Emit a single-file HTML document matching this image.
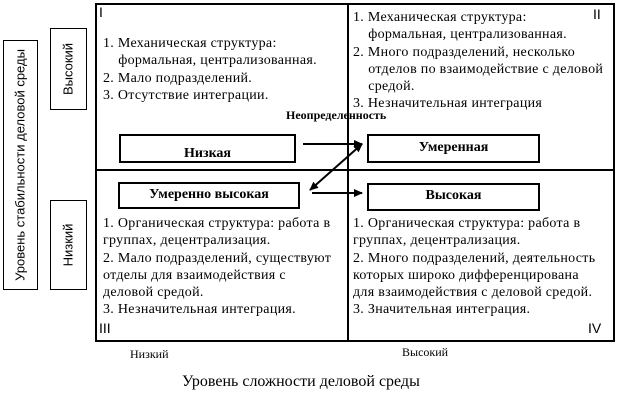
<!DOCTYPE html>
<html><head><meta charset="utf-8"><style>
body{margin:0;width:617px;height:400px;background:#fff;position:relative;overflow:hidden;font-family:"Liberation Serif",serif;color:#000}
.a{position:absolute}
.t{font-size:14px;letter-spacing:0.3px;line-height:17.3px;white-space:nowrap}
.box{position:absolute;border:2px solid #000;box-sizing:border-box;font-weight:bold;font-size:14px;text-align:center}
.s{font-family:"Liberation Sans",sans-serif}
</style></head><body>
<div class="a" style="left:95px;top:3px;width:520px;height:339px;border:2px solid #000;box-sizing:border-box"></div>
<div class="a" style="left:347px;top:3px;width:2px;height:339px;background:#000"></div>
<div class="a" style="left:95px;top:169px;width:520px;height:2px;background:#000"></div>

<div class="a" style="left:3px;top:40px;width:35px;height:250px;border:1px solid #000;box-sizing:border-box"></div>
<div class="a s" style="left:20px;top:165px;font-size:13px;white-space:nowrap;transform:translate(-50%,-50%) rotate(-90deg)">Уровень стабильности деловой среды</div>
<div class="a" style="left:50px;top:28px;width:37px;height:82px;border:1px solid #000;box-sizing:border-box"></div>
<div class="a s" style="left:68px;top:69px;font-size:13px;transform:translate(-50%,-50%) rotate(-90deg)">Высокий</div>
<div class="a" style="left:50px;top:200px;width:37px;height:90px;border:1px solid #000;box-sizing:border-box"></div>
<div class="a s" style="left:68px;top:245px;font-size:13px;transform:translate(-50%,-50%) rotate(-90deg)">Низкий</div>

<div class="a s" style="left:99px;top:4px;font-size:14px">I</div>
<div class="a s" style="left:593px;top:6px;font-size:14px">II</div>
<div class="a s" style="left:99px;top:320px;font-size:14px">III</div>
<div class="a s" style="left:588px;top:320px;font-size:14px">IV</div>

<div class="a t" style="left:103px;top:35px">1. Механическая структура:<br>&nbsp;&nbsp;&nbsp; формальная, централизованная.<br>2. Мало подразделений.<br>3. Отсутствие интеграции.</div>
<div class="a t" style="left:353px;top:9px">1. Механическая структура:<br>&nbsp;&nbsp;&nbsp; формальная, централизованная.<br>2. Много подразделений, несколько<br>&nbsp;&nbsp;&nbsp; отделов по взаимодействие с деловой<br>&nbsp;&nbsp;&nbsp; средой.<br>3. Незначительная интеграция</div>
<div class="a t" style="left:103px;top:215px">1. Органическая структура: работа в<br>группах, децентрализация.<br>2. Мало подразделений, существуют<br>отделы для взаимодействия с<br>деловой средой.<br>3. Незначительная интеграция.</div>
<div class="a t" style="left:353px;top:215px">1. Органическая структура: работа в<br>группах, децентрализация.<br>2. Много подразделений, деятельность<br>которых широко дифференцирована<br>для взаимодействия с деловой средой.<br>3. Значительная интеграция.</div>

<div class="a" style="left:286px;top:108px;font-weight:bold;font-size:12px">Неопределенность</div>
<div class="box" style="left:119px;top:134px;width:177px;height:29px;line-height:36px">Низкая</div>
<div class="box" style="left:367px;top:134px;width:173px;height:29px;line-height:24px">Умеренная</div>
<div class="box" style="left:118px;top:182px;width:182px;height:27px;line-height:22px">Умеренно высокая</div>
<div class="box" style="left:367px;top:183px;width:173px;height:28px;line-height:22px">Высокая</div>

<svg class="a" style="left:0;top:0" width="617" height="400">
<defs><marker id="m" markerUnits="userSpaceOnUse" markerWidth="9" markerHeight="9" refX="8" refY="4.5" orient="auto"><path d="M0,0.5L9,4.5L0,8.5z"/></marker>
<marker id="ms" markerUnits="userSpaceOnUse" markerWidth="9" markerHeight="9" refX="1" refY="4.5" orient="auto"><path d="M9,0.5L0,4.5L9,8.5z"/></marker></defs>
<g stroke="#000" stroke-width="2" fill="none">
<line x1="303" y1="144" x2="362" y2="144" marker-end="url(#m)"/>
<line x1="310" y1="190" x2="362" y2="144" marker-end="url(#m)" marker-start="url(#ms)"/>
<line x1="312" y1="193" x2="362" y2="193" marker-end="url(#m)"/>
</g></svg>

<div class="a" style="left:130px;top:347px;font-size:12px">Низкий</div>
<div class="a" style="left:402px;top:345px;font-size:12px">Высокий</div>
<div class="a" style="left:182px;top:373px;font-size:16px">Уровень сложности деловой среды</div>
</body></html>
